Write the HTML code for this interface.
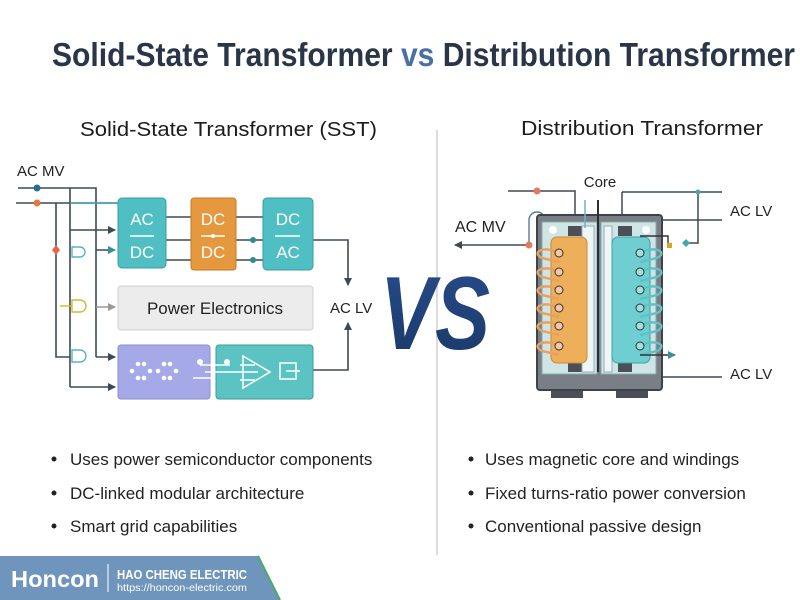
<!DOCTYPE html>
<html><head><meta charset="utf-8"><style>body{margin:0;background:#fff}svg{display:block}</style></head><body>
<svg width="800" height="600" viewBox="0 0 800 600" xmlns="http://www.w3.org/2000/svg" font-family="Liberation Sans, sans-serif">
<defs>
<marker id="ar" markerWidth="8" markerHeight="8" refX="7" refY="4" orient="auto" markerUnits="userSpaceOnUse"><path d="M0,0L8,4L0,8z" fill="#3c4a55"/></marker>
<marker id="ag" markerWidth="8" markerHeight="8" refX="7" refY="4" orient="auto" markerUnits="userSpaceOnUse"><path d="M0,0L8,4L0,8z" fill="#999"/></marker>
<marker id="at" markerWidth="8" markerHeight="8" refX="7" refY="4" orient="auto" markerUnits="userSpaceOnUse"><path d="M0,0L8,4L0,8z" fill="#3a8f96"/></marker>
<linearGradient id="vs" x1="0" y1="0" x2="0" y2="1"><stop offset="0" stop-color="#284c8a"/><stop offset="1" stop-color="#1a3868"/></linearGradient>
</defs>
<text x="52" y="66" font-size="33" font-weight="bold" fill="#2a3548" textLength="743" lengthAdjust="spacingAndGlyphs">Solid-State Transformer <tspan fill="#4a6fa5">vs</tspan> Distribution Transformer</text>
<text x="80" y="136" font-size="20" fill="#1c1c1c" textLength="297" lengthAdjust="spacingAndGlyphs">Solid-State Transformer (SST)</text>
<text x="521" y="135" font-size="20" fill="#1c1c1c" textLength="242" lengthAdjust="spacingAndGlyphs">Distribution Transformer</text>
<line x1="437" y1="130" x2="437" y2="555" stroke="#d0d0d0" stroke-width="1.5"/>

<!-- SST -->
<text x="17" y="176" font-size="15" fill="#222">AC MV</text>
<g stroke="#3c4a55" stroke-width="1.6" fill="none">
<path d="M18,188H96V357"/>
<path d="M16,203H118"/>
<path d="M56,203V357H70"/>
<path d="M70,188V387"/>
<path d="M70,230H115" marker-end="url(#ar)"/>
<path d="M96,250H115" marker-end="url(#at)"/>
<path d="M96,357H115" marker-end="url(#ar)"/>
<path d="M70,387H115" marker-end="url(#ar)"/>
<path d="M166,217H191M166,240H191M166,260H191M236,217H263M236,240H263M236,260H263"/>
<path d="M313,240H348V285" marker-end="url(#ar)"/>
<path d="M313,370H348V323" marker-end="url(#ar)"/>
</g>
<path d="M96,307H115" stroke="#999" stroke-width="1.6" marker-end="url(#ag)"/>
<path d="M70,203H118" stroke="#4aa8b8" stroke-width="1.6"/>
<circle cx="37" cy="188" r="3.5" fill="#2c6e8e"/>
<circle cx="37" cy="203" r="3.5" fill="#e07b45"/>
<path d="M56,245L60,250L56,255L52,250z" fill="#e0674a"/>
<path d="M72,247h8a5,5 0 0 1 0,10h-8z" fill="#fff" stroke="#5ab0d0" stroke-width="1.4"/>
<path d="M72,300h8a5,5 0 0 1 0,12h-8z" fill="#fff" stroke="#d4b830" stroke-width="1.4"/>
<path d="M60,306H72" stroke="#d4b830" stroke-width="1.4"/>
<path d="M72,350h8a5,5 0 0 1 0,12h-8z" fill="#fff" stroke="#5ab0d0" stroke-width="1.4"/>
<circle cx="253" cy="240" r="3" fill="#2d8a90"/><circle cx="253" cy="260" r="3" fill="#2d8a90"/>
<rect x="118" y="198" width="48" height="70" rx="4" fill="#4fbfc4" stroke="#3a9ca2"/>
<rect x="191" y="198" width="45" height="72" rx="3" fill="#e6983e" stroke="#c47a2a"/>
<rect x="263" y="198" width="50" height="72" rx="4" fill="#4fbfc4" stroke="#3a9ca2"/>
<g fill="#fff" font-size="17" text-anchor="middle">
<text x="142" y="225">AC</text><text x="142" y="258">DC</text>
<text x="213" y="225">DC</text><text x="213" y="258">DC</text>
<text x="288" y="225">DC</text><text x="288" y="258">AC</text>
</g>
<g stroke="#fff" stroke-width="1.5"><path d="M130,236H154M201,236H225M275,236H300"/></g>
<circle cx="213" cy="236" r="2" fill="#fff"/>
<rect x="118" y="286" width="195" height="44" rx="3" fill="#ececec" stroke="#d0d0d0"/>
<text x="215" y="314" font-size="17" fill="#222" text-anchor="middle">Power Electronics</text>
<rect x="118" y="345" width="92" height="54" rx="3" fill="#a5a9e8" stroke="#8a8ed0"/>
<rect x="216" y="345" width="97" height="54" rx="3" fill="#5cc3c3" stroke="#3a9ca2"/>
<g fill="#fff">
<circle cx="132" cy="371" r="2.3"/><circle cx="138" cy="364" r="2.3"/><circle cx="144" cy="364" r="2.3"/><circle cx="138" cy="378" r="2.3"/><circle cx="144" cy="378" r="2.3"/><circle cx="150" cy="371" r="2.3"/>
<circle cx="158" cy="371" r="2.3"/><circle cx="164" cy="364" r="2.3"/><circle cx="170" cy="364" r="2.3"/><circle cx="164" cy="378" r="2.3"/><circle cx="170" cy="378" r="2.3"/><circle cx="176" cy="371" r="2.3"/>
<circle cx="200" cy="362" r="3"/><circle cx="227" cy="362" r="3"/>
</g>
<g stroke="#fff" stroke-width="1.5" fill="none">
<path d="M193,378H215M200,365H230M205,372H240"/>
<path d="M243,356L270,372L243,388z"/>
<path d="M240,365H255M240,372H258M240,380H255"/>
<rect x="280" y="363" width="16" height="16"/><path d="M286,371H300"/>
</g>
<text x="330" y="313" font-size="15" fill="#222">AC LV</text>

<!-- VS -->
<text x="380" y="349" font-size="104" font-weight="bold" font-style="italic" fill="url(#vs)" textLength="110" lengthAdjust="spacingAndGlyphs">VS</text>

<!-- Transformer -->
<g stroke="#3c4a55" stroke-width="1.5" fill="none">
<path d="M508,191H575V215"/>
<path d="M529,245H455" marker-end="url(#ar)"/>
<path d="M622,192H722M622,192V216"/>
<path d="M662,220H722M662,377H722"/>
<path d="M698,192V243H686"/>
</g>
<path d="M529,245V220a8,8 0 0 1 16,0" stroke="#5a7a98" stroke-width="1.4" fill="none"/>
<circle cx="537" cy="191" r="3.5" fill="#e07b5f"/>
<circle cx="529" cy="245" r="3.5" fill="#e07b5f"/>
<circle cx="698" cy="192" r="2.5" fill="#3fa8b0"/>
<path d="M686,239L690,243L686,247L682,243z" fill="#3fa8b0"/>
<rect x="667" y="243" width="5" height="5" fill="#e0a020"/>
<text x="600" y="187" font-size="15" fill="#222" text-anchor="middle">Core</text>
<text x="455" y="232" font-size="16" fill="#222">AC MV</text>
<text x="730" y="216" font-size="15" fill="#222">AC LV</text>
<text x="730" y="379" font-size="15" fill="#222">AC LV</text>
<rect x="551" y="388" width="32" height="10" fill="#4a4f58"/><rect x="616" y="388" width="32" height="10" fill="#4a4f58"/>
<rect x="537" y="215" width="125" height="175" rx="3" fill="#7a7e86" stroke="#3e434a" stroke-width="2"/>
<rect x="542" y="222" width="55" height="152" fill="#cfe4e4" stroke="#8aa" />
<rect x="601" y="222" width="55" height="152" fill="#cfe4e4" stroke="#8aa"/>
<rect x="568" y="226" width="14" height="10" fill="#4a4f58"/><rect x="618" y="226" width="14" height="10" fill="#4a4f58"/>
<rect x="568" y="362" width="14" height="10" fill="#4a4f58"/><rect x="618" y="362" width="14" height="10" fill="#4a4f58"/>
<rect x="582" y="226" width="12" height="146" fill="#eef6f6" stroke="#9ab"/>
<rect x="604" y="226" width="8" height="146" fill="#eef6f6" stroke="#9ab"/>
<path d="M598,200V372" stroke="#2a2f35" stroke-width="2"/>
<path d="M585,200V228" stroke="#6fb4c0" stroke-width="1.5"/>
<circle cx="553" cy="230" r="4" fill="#fff"/><circle cx="646" cy="230" r="4" fill="#fff"/>
<rect x="551" y="237" width="36" height="126" rx="6" fill="#eeaf5a" stroke="#c98a35"/>
<rect x="612" y="237" width="38" height="126" rx="6" fill="#6fcfd0" stroke="#3fa0a5"/>
<g stroke-width="2.5" fill="none" stroke="#e8a060">
<path d="M559,253C545,245 530,252 542,258L559,262M559,272C545,264 530,271 542,277L559,281M559,290C545,282 530,289 542,295L559,299M559,308C545,300 530,307 542,313L559,317M559,326C545,318 530,325 542,331L559,335M559,346C545,338 530,345 542,351L559,355"/>
</g>
<g stroke-width="2.5" fill="none" stroke="#5fc2c6">
<path d="M640,253C654,245 669,252 657,258L640,262M640,272C654,264 669,271 657,277L640,281M640,290C654,282 669,289 657,295L640,299M640,308C654,300 669,307 657,313L640,317M640,326C654,318 669,325 657,331L640,335M640,346C654,338 669,345 657,351L640,355"/>
</g>
<g stroke="#333" stroke-width="1">
<circle cx="559" cy="253" r="4" fill="#f5c5a5"/><circle cx="559" cy="272" r="4" fill="#f5c5a5"/><circle cx="559" cy="290" r="4" fill="#f5c5a5"/><circle cx="559" cy="308" r="4" fill="#f5c5a5"/><circle cx="559" cy="326" r="4" fill="#f5c5a5"/><circle cx="559" cy="346" r="4" fill="#f5c5a5"/>
<circle cx="640" cy="253" r="4" fill="#9edfe0"/><circle cx="640" cy="272" r="4" fill="#9edfe0"/><circle cx="640" cy="290" r="4" fill="#9edfe0"/><circle cx="640" cy="308" r="4" fill="#9edfe0"/><circle cx="640" cy="326" r="4" fill="#9edfe0"/><circle cx="640" cy="346" r="4" fill="#9edfe0"/>
</g>
<path d="M640,355H675" stroke="#333" stroke-width="1.4" marker-end="url(#at)"/>
<path d="M640,236H668V243" stroke="#333" stroke-width="1.4" fill="none"/>

<!-- bullets -->
<g font-size="17" fill="#222">
<circle cx="54" cy="459" r="2.5"/><text x="70" y="465">Uses power semiconductor components</text>
<circle cx="54" cy="493" r="2.5"/><text x="70" y="499">DC-linked modular architecture</text>
<circle cx="54" cy="526" r="2.5"/><text x="70" y="532">Smart grid capabilities</text>
<circle cx="471" cy="459" r="2.5"/><text x="485" y="465">Uses magnetic core and windings</text>
<circle cx="471" cy="493" r="2.5"/><text x="485" y="499">Fixed turns-ratio power conversion</text>
<circle cx="471" cy="526" r="2.5"/><text x="485" y="532">Conventional passive design</text>
</g>

<!-- footer -->
<path d="M0,556H258L280,600H0z" fill="#6f95bd"/>
<path d="M258,556L280,600" stroke="#4aaa6a" stroke-width="2"/>
<text x="11" y="587" font-size="23" font-weight="bold" fill="#fff" textLength="88" lengthAdjust="spacingAndGlyphs">Honcon</text>
<line x1="108" y1="564" x2="108" y2="592" stroke="#fff" stroke-width="1"/>
<text x="117" y="579" font-size="12.5" font-weight="bold" fill="#fff" textLength="130" lengthAdjust="spacingAndGlyphs">HAO CHENG ELECTRIC</text>
<text x="117" y="591" font-size="10.5" fill="#fff" textLength="130" lengthAdjust="spacingAndGlyphs">https://honcon-electric.com</text>
</svg>
</body></html>
